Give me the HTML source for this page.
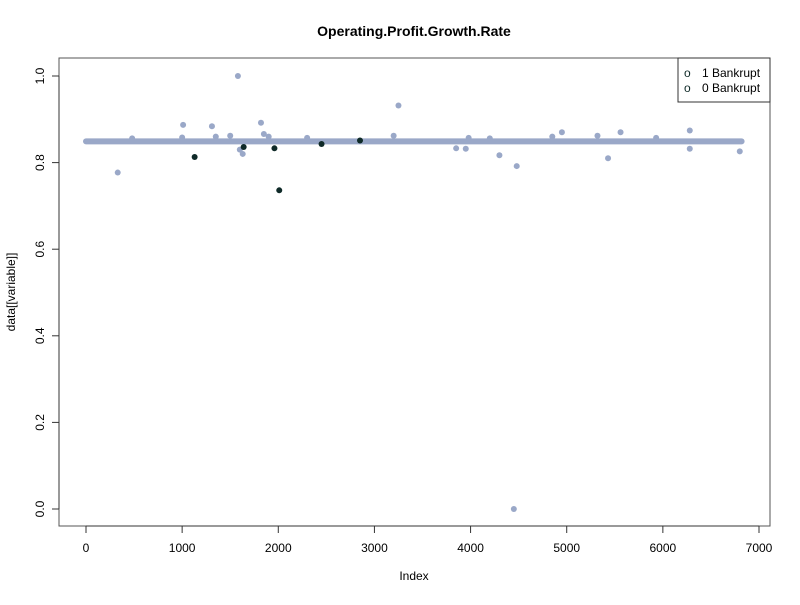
<!DOCTYPE html>
<html><head><meta charset="utf-8"><style>
body{margin:0;background:#fff}
svg{font-family:"Liberation Sans",sans-serif}
</style></head><body>
<svg width="800" height="600" id="c">
<text x="414" y="36" text-anchor="middle" font-weight="bold" font-size="14">Operating.Profit.Growth.Rate</text>
<rect x="59" y="58" width="711" height="468" fill="none" stroke="#555"/>
<text x="414" y="580" text-anchor="middle" font-size="12">Index</text>
<text transform="translate(15,292) rotate(-90)" text-anchor="middle" font-size="12">data[[variable]]</text>
<g id="axes"></g><g id="marks"></g>
<g>
<rect x="678" y="58" width="92" height="44" fill="#fff" stroke="#333"/>
<text x="684" y="77" font-size="12" fill="#0F2A28">o</text><text x="702" y="77" font-size="12">1 Bankrupt</text>
<text x="684" y="92" font-size="12" fill="#0F2A28">o</text><text x="702" y="92" font-size="12">0 Bankrupt</text>
</g>
</svg>
<script>
const xTicks=[0,1000,2000,3000,4000,5000,6000,7000];
const yTicks=[0,0.2,0.4,0.6,0.8,1.0];
const bandRange=[0,6819];
const bandValue=0.849;
const lightIdx=[330,480,1000,1010,1310,1350,1500,1580,1600,1630,1820,1850,1900,2300,3200,3250,3850,3950,3980,4200,4300,4450,4480,4850,4950,5320,5430,5560,5930,6280,6280,6800];
const lightVal=[0.777,0.856,0.858,0.887,0.884,0.860,0.862,1.0,0.830,0.820,0.892,0.866,0.860,0.857,0.862,0.932,0.833,0.832,0.857,0.856,0.817,0.0,0.792,0.860,0.870,0.862,0.810,0.870,0.857,0.874,0.832,0.826];
const darkIdx=[1130,1640,1960,2010,2450,2850];
const darkVal=[0.813,0.836,0.833,0.736,0.843,0.851];
const NS="http://www.w3.org/2000/svg";
const X=v=>86+v*(673/7000), Y=v=>509-v*433;
const ax=document.getElementById('axes'),mk=document.getElementById('marks');
function el(t,a,p){const e=document.createElementNS(NS,t);for(const k in a)e.setAttribute(k,a[k]);p.appendChild(e);return e;}
el('line',{x1:X(0),x2:X(7000),y1:526,y2:526,stroke:'#333'},ax);
xTicks.forEach(t=>{el('line',{x1:X(t),x2:X(t),y1:526,y2:533,stroke:'#333'},ax);
const tx=el('text',{x:X(t),y:552,'text-anchor':'middle','font-size':12},ax);tx.textContent=t;

});
el('line',{x1:59,x2:59,y1:Y(0),y2:Y(1),stroke:'#333'},ax);
yTicks.forEach(t=>{el('line',{x1:52,x2:59,y1:Y(t),y2:Y(t),stroke:'#333'},ax);
const tx=el('text',{transform:`translate(44,${Y(t)}) rotate(-90)`,'text-anchor':'middle','font-size':12},ax);tx.textContent=t.toFixed(1);

});
const b=el('line',{x1:X(bandRange[0]),x2:X(bandRange[1]),y1:Y(bandValue),y2:Y(bandValue),stroke:'#9AA8C8','stroke-width':6,'stroke-linecap':'round'},mk);


lightIdx.forEach((v,i)=>{const c=el('circle',{cx:X(v),cy:Y(lightVal[i]),r:3,fill:'#9AA8C8'},mk);

});
darkIdx.forEach((v,i)=>{const c=el('circle',{cx:X(v),cy:Y(darkVal[i]),r:3,fill:'#0F2A28'},mk);

});
</script>
</body></html>
